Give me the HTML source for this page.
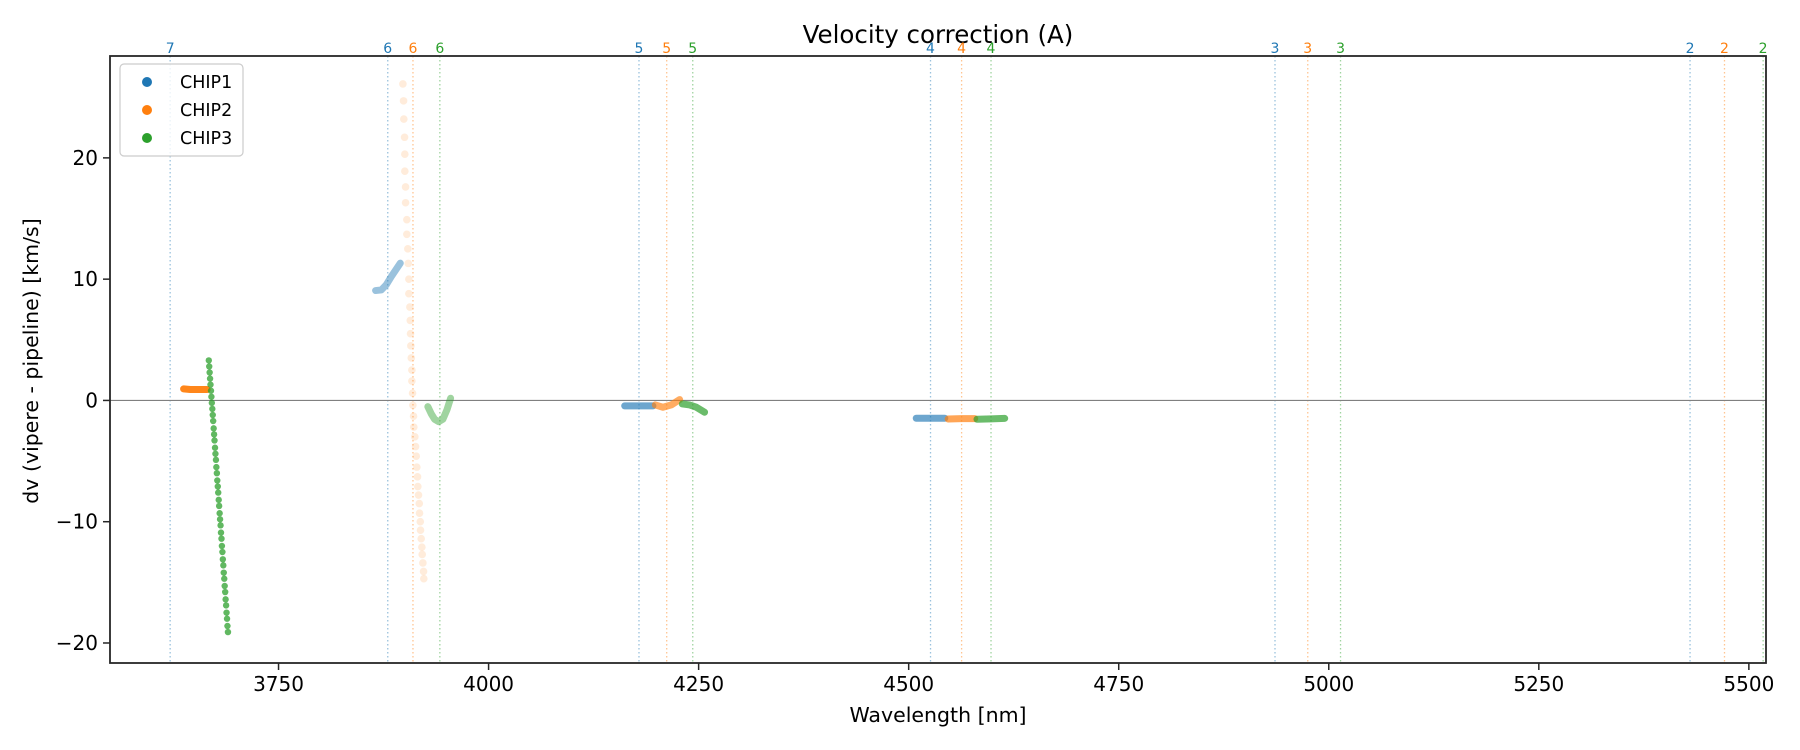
<!DOCTYPE html>
<html><head><meta charset="utf-8"><style>
html,body{margin:0;padding:0;background:#fff;}
svg{display:block;font-family:"DejaVu Sans","Liberation Sans",sans-serif;}
</style></head><body>
<svg id="chart" width="1800" height="750" viewBox="0 0 1800 750" xmlns="http://www.w3.org/2000/svg">
<rect width="1800" height="750" fill="#fff"/>
<g id="lines"></g>
<line id="zero" stroke="#808080" stroke-width="1.2"/>
<g id="marks"></g>
<g id="axes"></g>
<text x="938" y="43" font-size="24.5" text-anchor="middle" fill="#000">Velocity correction (A)</text>
<text x="938" y="722" font-size="20.5" text-anchor="middle" fill="#000">Wavelength [nm]</text>
<text transform="translate(38,361) rotate(-90)" font-size="20.5" text-anchor="middle" fill="#000">dv (vipere - pipeline) [km/s]</text>
<g>
<rect x="120" y="64" width="123" height="92" rx="4" fill="#fff" fill-opacity="0.8" stroke="#ccc" stroke-width="1.2"/>
<circle cx="147" cy="82" r="5" fill="#1f77b4"/>
<text x="180" y="88" font-size="17.5">CHIP1</text>
<circle cx="147" cy="110" r="5" fill="#ff7f0e"/>
<text x="180" y="116" font-size="17.5">CHIP2</text>
<circle cx="147" cy="138" r="5" fill="#2ca02c"/>
<text x="180" y="144" font-size="17.5">CHIP3</text>
</g>
</svg>
<script>
const xTicks=[3750,4000,4250,4500,4750,5000,5250,5500];
const yTicks=[20,10,0,-10,-20];
const yTickLabels=["20","10","0","\u221210","\u221220"];
const orderWl1=[3621,3880,4179,4526,4936,5430];
const orderWl2=[3910,4212,4563,4975,5471];
const orderWl3=[3942,4243,4598,5014,5517];
const orderNum1=[7,6,5,4,3,2];
const orderNum2=[6,5,4,3,2];
const orderNum3=[6,5,4,3,2];
const c2aX=[3637,3645,3655,3665];
const c2aY=[0.95,0.9,0.9,0.9];
const c1aX=[3865.5,3872.3,3878.2,3884.2,3890.1,3894.9];
const c1aY=[9.06,9.11,9.53,10.21,10.82,11.32];
const c3aX=[3927.7,3931.8,3935.7,3940.5,3945.6,3950.4,3954.8];
const c3aY=[-0.51,-1.11,-1.55,-1.75,-1.55,-0.78,0.18];
const c1bX=[4162,4180,4195.6];
const c1bY=[-0.45,-0.45,-0.45];
const c2bX=[4198.4,4207.5,4217.5,4227.4];
const c2bY=[-0.37,-0.56,-0.37,0.07];
const c3bX=[4230.6,4239.3,4247.3,4257.1];
const c3bY=[-0.29,-0.37,-0.56,-0.97];
const c1cX=[4509,4525,4543];
const c1cY=[-1.47,-1.47,-1.47];
const c2cX=[4547,4563,4578.6];
const c2cY=[-1.53,-1.5,-1.5];
const c3cX=[4581.3,4598,4614.3];
const c3cY=[-1.55,-1.52,-1.48];
const c3sX=[3667.0,3667.5,3668.0,3668.5,3669.0,3669.6,3670.1,3670.6,3671.2,3671.7,3672.2,3672.8,3673.3,3673.8,3674.4,3674.9,3675.5,3676.0,3676.6,3677.1,3677.7,3678.2,3678.8,3679.3,3679.9,3680.4,3681.0,3681.5,3682.1,3682.6,3683.2,3683.7,3684.3,3684.8,3685.4,3685.9,3686.5,3687.0,3687.6,3688.1,3688.7,3689.2,3689.8];
const c3sY=[3.3,2.8,2.3,1.8,1.3,0.8,0.3,-0.2,-0.7,-1.2,-1.7,-2.3,-2.8,-3.3,-3.9,-4.4,-4.9,-5.5,-6.0,-6.6,-7.1,-7.6,-8.2,-8.7,-9.3,-9.8,-10.3,-10.9,-11.4,-12.0,-12.5,-13.1,-13.6,-14.2,-14.7,-15.3,-15.8,-16.4,-16.9,-17.5,-18.0,-18.6,-19.1];
const c2sX=[3898.0,3898.8,3899.1,3900.0,3900.3,3900.3,3901.2,3901.2,3902.7,3902.7,3903.9,3904.4,3905.1,3905.1,3906.3,3906.8,3907.1,3907.5,3908.0,3908.7,3908.7,3909.5,3909.9,3910.7,3911.0,3912.2,3913.1,3913.9,3914.6,3915.4,3915.8,3916.6,3917.5,3917.8,3918.7,3919.0,3919.8,3920.6,3921.0,3921.8,3922.6,3922.9];
const c2sY=[26.1,24.7,23.2,21.7,20.3,18.9,17.6,16.3,14.9,13.7,12.5,11.3,10.0,8.8,7.7,6.6,5.5,4.5,3.5,2.5,1.6,0.6,-0.4,-1.3,-2.2,-3.0,-3.8,-4.6,-5.5,-6.3,-7.1,-7.8,-8.5,-9.3,-10.0,-10.7,-11.4,-12.1,-12.7,-13.4,-14.1,-14.7];

const L=110,R=1766,T=56,B=663;
const X0=3549.4,X1=5520.4,Y0=-21.65,Y1=28.4;
const sx=v=>L+(v-X0)/(X1-X0)*(R-L);
const sy=v=>B-(v-Y0)/(Y1-Y0)*(B-T);
const NS="http://www.w3.org/2000/svg";
const C=["#1f77b4","#ff7f0e","#2ca02c"];
function mk(tag,parent,attrs){const e=document.createElementNS(NS,tag);for(const k in attrs)e.setAttribute(k,attrs[k]);parent.appendChild(e);return e;}
const gl=document.getElementById('lines'),gm=document.getElementById('marks'),ga=document.getElementById('axes'),svg=document.getElementById('chart');

[[orderWl1,orderNum1,0],[orderWl2,orderNum2,1],[orderWl3,orderNum3,2]].forEach(([w,n,ci])=>{
 w.forEach((v,i)=>{
  const ln=mk('line',gl,{x1:sx(v),x2:sx(v),y1:T,y2:B,stroke:C[ci],'stroke-width':1.3,'stroke-dasharray':'1.5,2.5','stroke-opacity':0.45});
  
  
  const t=mk('text',svg,{x:sx(v),y:53,'font-size':14,'text-anchor':'middle',fill:C[ci]});
  t.textContent=n[i];
  
  
 });
});
const z=document.getElementById('zero');
z.setAttribute('x1',L);z.setAttribute('x2',R);z.setAttribute('y1',sy(0));z.setAttribute('y2',sy(0));

function seg(xs,ys,ci,op){
 const p=mk('polyline',gm,{points:xs.map((v,i)=>sx(v)+','+sy(ys[i])).join(' '),fill:'none',stroke:C[ci],'stroke-width':7,'stroke-linecap':'round','stroke-linejoin':'round','stroke-opacity':op});
 
 
}
seg(c1aX,c1aY,0,0.45);seg(c3aX,c3aY,2,0.45);
seg(c1bX,c1bY,0,0.65);seg(c2bX,c2bY,1,0.65);seg(c3bX,c3bY,2,0.7);
seg(c1cX,c1cY,0,0.65);seg(c2cX,c2cY,1,0.7);seg(c3cX,c3cY,2,0.7);
seg(c2aX,c2aY,1,0.95);
c2sX.forEach((v,i)=>{
 const c=mk('circle',gm,{cx:sx(v),cy:sy(c2sY[i]),r:3.8,fill:C[1],'fill-opacity':0.15});
 
 
});
c3sX.forEach((v,i)=>{
 const c=mk('circle',gm,{cx:sx(v),cy:sy(c3sY[i]),r:3.2,fill:C[2],'fill-opacity':0.75});
 
 
});

const fr=mk('rect',ga,{x:L,y:T,width:R-L,height:B-T,fill:'none',stroke:'#262626','stroke-width':1.8});


xTicks.forEach(v=>{
 const tk=mk('line',ga,{x1:sx(v),x2:sx(v),y1:B,y2:B+7,stroke:'#262626','stroke-width':1.5});
 
 
 const t=mk('text',ga,{x:sx(v),y:B+28,'font-size':20,'text-anchor':'middle',fill:'#000'});
 t.textContent=v;
 
 
});
yTicks.forEach((v,i)=>{
 const tk=mk('line',ga,{x1:L-7,x2:L,y1:sy(v),y2:sy(v),stroke:'#262626','stroke-width':1.5});
 
 
 const t=mk('text',ga,{x:L-12,y:sy(v)+7,'font-size':20,'text-anchor':'end',fill:'#000'});
 t.textContent=yTickLabels[i];
 
 
});
</script>
</body></html>
